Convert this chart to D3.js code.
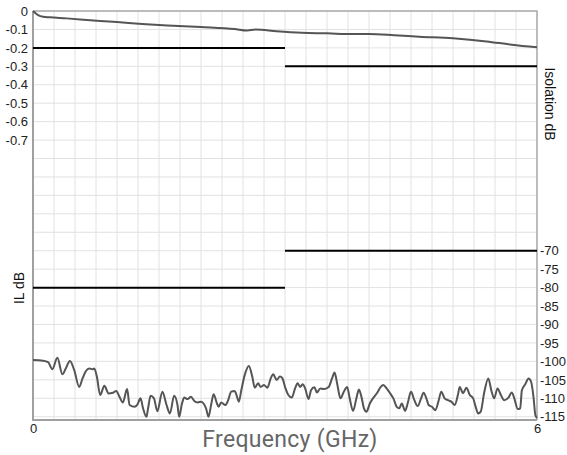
<!DOCTYPE html>
<meta charset="utf-8">
<title>IL / Isolation</title>
<style>

body {
  margin: 0;
  background: #fff;
}

text {
  font-family: "Liberation Sans", Arial, sans-serif;
}

.grid line {
  stroke: #e2e2e2;
  stroke-width: 1px;
}

</style>
<body>
<script src="https://cdn.jsdelivr.net/npm/d3@7"></script>
<script>

var w = 567,
    h = 455;

// insertion loss trace
var ilFreq = [0, 0.06, 0.12, 0.2, 0.4, 0.8, 1.0, 1.3, 1.6, 2.0, 2.4, 2.55, 2.65, 2.9, 3.2, 3.5, 3.8, 4.0, 4.3, 4.6, 5.0, 5.4, 5.7, 6.0];
var ilDb = [0, -0.022, -0.031, -0.034, -0.04, -0.054, -0.06, -0.07, -0.078, -0.087, -0.098, -0.106, -0.101, -0.11, -0.118, -0.121, -0.125, -0.125, -0.131, -0.139, -0.148, -0.165, -0.183, -0.197];

// isolation trace
var isoFreq = [0.00, 0.12, 0.18, 0.23, 0.29, 0.35, 0.39, 0.44, 0.49, 0.55, 0.59, 0.63, 0.67, 0.71, 0.73, 0.76, 0.80, 0.85, 0.90, 0.95,
  0.99, 1.03, 1.07, 1.12, 1.15, 1.21, 1.24, 1.28, 1.31, 1.35, 1.37, 1.40, 1.44, 1.48, 1.54, 1.59, 1.63, 1.68, 1.72, 1.74,
  1.77, 1.80, 1.84, 1.88, 1.92, 1.96, 2.00, 2.03, 2.06, 2.09, 2.12, 2.15, 2.19, 2.21, 2.24, 2.29, 2.32, 2.36, 2.40, 2.42,
  2.45, 2.48, 2.52, 2.57, 2.61, 2.64, 2.68, 2.71, 2.75, 2.79, 2.83, 2.86, 2.90, 2.94, 2.97, 3.00, 3.04, 3.08, 3.12, 3.15,
  3.18, 3.21, 3.24, 3.28, 3.31, 3.35, 3.38, 3.42, 3.46, 3.52, 3.56, 3.59, 3.62, 3.66, 3.70, 3.74, 3.77, 3.81, 3.85, 3.88,
  3.91, 3.94, 3.97, 4.01, 4.06, 4.10, 4.14, 4.17, 4.21, 4.25, 4.29, 4.33, 4.36, 4.39, 4.43, 4.46, 4.50, 4.54, 4.58, 4.62,
  4.65, 4.69, 4.71, 4.75, 4.79, 4.83, 4.86, 4.90, 4.94, 4.98, 5.02, 5.06, 5.08, 5.12, 5.16, 5.20, 5.24, 5.27, 5.30, 5.33,
  5.37, 5.42, 5.46, 5.49, 5.53, 5.57, 5.61, 5.66, 5.70, 5.73, 5.77, 5.80, 5.82, 5.86, 5.90, 5.93, 5.96, 5.98, 6.00];
var isoDb = [-99.6, -99.8, -100.2, -102.1, -99.0, -103.5, -101.9, -99.9, -102.3, -106.9, -104.6, -102.6, -101.9, -102.1, -101.9, -104.1, -109.1, -106.6, -108.7, -108.5,
  -108.0, -109.6, -111.1, -107.5, -111.8, -112.3, -111.8, -110.0, -112.7, -115.0, -112.7, -109.3, -110.0, -113.5, -108.2, -111.8, -114.1, -109.3, -111.8, -115.0,
  -111.8, -109.8, -110.2, -109.6, -110.7, -111.1, -110.9, -111.4, -112.7, -115.0, -111.8, -108.9, -111.4, -112.3, -111.1, -111.8, -110.7, -108.2, -108.0, -108.9,
  -110.9, -107.8, -103.7, -101.2, -104.1, -107.1, -105.9, -106.9, -106.4, -107.1, -104.6, -103.5, -105.0, -104.1, -104.6, -106.9, -109.1, -109.8, -107.3, -105.9,
  -106.9, -106.2, -107.3, -110.2, -107.8, -107.0, -108.4, -107.3, -107.5, -106.9, -104.6, -103.0, -105.9, -110.0, -108.2, -106.9, -110.0, -113.4, -110.0, -107.6,
  -109.6, -112.7, -113.6, -111.4, -109.6, -108.4, -106.9, -106.4, -107.3, -108.6, -110.0, -112.3, -112.7, -111.4, -113.4, -111.4, -108.2, -110.5, -112.1, -110.0,
  -108.5, -110.5, -111.8, -112.3, -113.2, -110.5, -108.2, -110.0, -110.5, -110.9, -111.8, -108.9, -106.9, -108.6, -107.1, -109.1, -110.0, -112.3, -114.1, -113.6,
  -108.6, -104.6, -108.2, -110.0, -107.3, -109.1, -110.5, -109.8, -108.4, -110.0, -112.9, -112.7, -107.8, -106.2, -104.6, -105.5, -110.0, -114.5, -115.3];

// spec limits, two bands
var limitStart = [0, 3],
    limitEnd = [3, 6],
    ilLimit = [-0.2, -0.3],
    isoLimit = [-80, -70];

var ilTicks = [0, -0.1, -0.2, -0.3, -0.4, -0.5, -0.6, -0.7],
    isoTicks = [-70, -75, -80, -85, -90, -95, -100, -105, -110, -115],
    freqTicks = [0, 6];

// plot box (window.top is taken, so prefixed names)
var pL = 33, pR = 537, pT = 11, pB = 420;

var x = d3.scaleLinear().domain([0, 6]).range([pL, pR]);
var yIL = d3.scaleLinear().domain([0, -2.218]).range([pT, pB]);
var yIso = d3.scaleLinear().domain([-5, -115.87]).range([pT, pB]);

var svg = d3.select("body").append("svg")
    .attr("width", w)
    .attr("height", h);

// grid
var grid = svg.append("g").attr("class", "grid");

grid.selectAll(".v")
    .data(d3.range(0, 25).map(function (d) { return d / 4; }))
  .enter().append("line")
    .attr("x1", function (d) { return x(d); })
    .attr("x2", function (d) { return x(d); })
    .attr("y1", pT)
    .attr("y2", pB);

grid.selectAll(".h")
    .data(d3.range(0, 23).map(function (d) { return -d / 10; }))
  .enter().append("line")
    .attr("x1", pL)
    .attr("x2", pR)
    .attr("y1", function (d) { return yIL(d); })
    .attr("y2", function (d) { return yIL(d); });

// frame
svg.append("path")
    .attr("d", "M" + pL + "," + pT + "H" + pR + "V" + pB)
    .attr("fill", "none")
    .attr("stroke", "#aaa")
    .attr("stroke-width", 1.5);

svg.append("path")
    .attr("d", "M" + pL + "," + pT + "V" + pB + "H" + pR)
    .attr("fill", "none")
    .attr("stroke", "#a0a0a0")
    .attr("stroke-width", 2);

// axes
var axisL = svg.append("g")
    .attr("transform", "translate(" + pL + ",0)")
    .call(d3.axisLeft(yIL).tickValues(ilTicks).tickSize(0).tickPadding(5)
      .tickFormat(function (d) { return d === 0 ? "0" : d3.format(".1f")(d).replace("−", "-"); }));

var axisR = svg.append("g")
    .attr("transform", "translate(" + pR + ",0)")
    .call(d3.axisRight(yIso).tickValues(isoTicks).tickSize(0).tickPadding(3)
      .tickFormat(function (d) { return String(d); }));

var axisB = svg.append("g")
    .attr("transform", "translate(0," + pB + ")")
    .call(d3.axisBottom(x).tickValues(freqTicks).tickSize(0).tickPadding(4)
      .tickFormat(d3.format("d")));

[axisL, axisR, axisB].forEach(function (a) {
  a.select(".domain").remove();
  a.selectAll("text")
      .style("font-family", "'Liberation Sans', Arial, sans-serif")
      .style("font-size", "13px")
      .attr("fill", "#222");
});

// limit lines
svg.selectAll(".ilLimit")
    .data(ilLimit)
  .enter().append("line")
    .attr("x1", function (d, i) { return x(limitStart[i]); })
    .attr("x2", function (d, i) { return x(limitEnd[i]); })
    .attr("y1", function (d) { return yIL(d); })
    .attr("y2", function (d) { return yIL(d); })
    .attr("stroke", "#000")
    .attr("stroke-width", 2);

svg.selectAll(".isoLimit")
    .data(isoLimit)
  .enter().append("line")
    .attr("x1", function (d, i) { return x(limitStart[i]); })
    .attr("x2", function (d, i) { return x(limitEnd[i]); })
    .attr("y1", function (d) { return yIso(d); })
    .attr("y2", function (d) { return yIso(d); })
    .attr("stroke", "#000")
    .attr("stroke-width", 2);

// traces
var ilLine = d3.line()
    .x(function (d, i) { return x(ilFreq[i]); })
    .y(function (d) { return yIL(d); })
    .curve(d3.curveMonotoneX);

var isoLine = d3.line()
    .x(function (d, i) { return x(isoFreq[i]); })
    .y(function (d) { return yIso(d); })
    .curve(d3.curveMonotoneX);

svg.append("path")
    .datum(ilDb)
    .attr("d", ilLine)
    .attr("fill", "none")
    .attr("stroke", "#555")
    .attr("stroke-width", 2);

svg.append("path")
    .datum(isoDb)
    .attr("d", isoLine)
    .attr("fill", "none")
    .attr("stroke", "#555")
    .attr("stroke-width", 2);

// titles
svg.append("text")
    .attr("transform", "translate(24,288) rotate(-90)")
    .attr("text-anchor", "middle")
    .style("font-size", "14px")
    .attr("fill", "#111")
    .text("IL dB");

svg.append("text")
    .attr("transform", "translate(545,104) rotate(90)")
    .attr("text-anchor", "middle")
    .style("font-size", "14px")
    .attr("fill", "#111")
    .text("Isolation dB");

svg.append("text")
    .attr("x", 290)
    .attr("y", 447)
    .attr("text-anchor", "middle")
    .style("font-family", "Roboto, 'Noto Sans', sans-serif")
    .style("font-size", "23px")
    .style("letter-spacing", "0.3px")
    .attr("fill", "#666")
    .text("Frequency (GHz)");

</script>
